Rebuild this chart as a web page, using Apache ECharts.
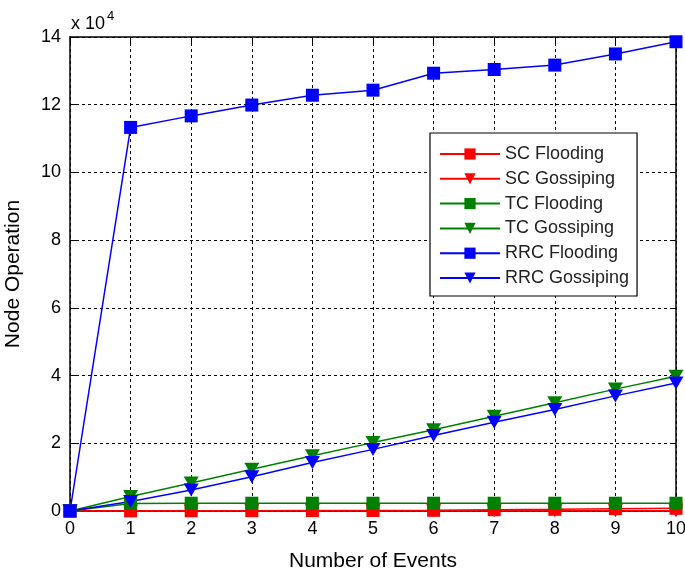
<!DOCTYPE html>
<html>
<head>
<meta charset="utf-8">
<script src="https://cdn.jsdelivr.net/npm/echarts@6/dist/echarts.min.js"></script>
<style>html,body{margin:0;padding:0;background:#fff;}#c{width:685px;height:575px;}</style>
</head>
<body>
<div id="c"></div>
<script>
var events = [0, 1, 2, 3, 4, 5, 6, 7, 8, 9, 10];
var scFlooding = [0, 50, 80, 100, 120, 150, 200, 400, 500, 700, 800];
var scGossiping = [0, 20, 30, 40, 50, 60, 70, 80, 90, 100, 110];
var tcFlooding = [0, 2200, 2300, 2300, 2300, 2300, 2300, 2300, 2300, 2300, 2300];
var tcGossiping = [0, 4300, 8300, 12300, 16300, 20200, 24000, 28000, 32000, 36000, 39800];
var rrcFlooding = [0, 113300, 116700, 119900, 122800, 124300, 129300, 130400, 131700, 135000, 138600];
var rrcGossiping = [0, 2800, 6200, 10100, 14300, 18200, 22300, 26200, 30000, 34000, 37800];
var yTicks = [0, 20000, 40000, 60000, 80000, 100000, 120000, 140000];

var font = 'Liberation Sans, Arial, Helvetica, sans-serif';
function pairs(ys){ return events.map(function(x,i){ return [x, ys[i]]; }); }
function mk(name, ys, color, sym, size){
  return {
    name: name, type: 'line', data: pairs(ys),
    symbol: sym, symbolSize: size, showSymbol: true,
    lineStyle: {color: color, width: 1.5},
    itemStyle: {color: color},
    animation: false
  };
}
var tri = 'path://M0,0 L10,0 L5,9 Z';
var chart = echarts.init(document.getElementById('c'), null, {renderer: 'canvas'});
chart.setOption({
  animation: false,
  backgroundColor: '#fff',
  grid: {left: 70, right: 9, top: 37, bottom: 64, containLabel: false, outerBoundsMode: 'none'},
  xAxis: [{
    type: 'value', min: 0, max: 10, interval: 1,
    name: 'Number of Events', nameLocation: 'middle', nameGap: 40,
    nameTextStyle: {fontFamily: font, fontSize: 21, color: '#000'},
    axisLine: {show: true, onZero: false, lineStyle: {color: '#000', width: 1.5}},
    axisTick: {show: true, inside: true, length: 6, lineStyle: {color: '#000'}},
    axisLabel: {fontFamily: font, fontSize: 18, color: '#000', margin: 9},
    splitLine: {show: true, lineStyle: {color: '#000', type: [3, 3], width: 1}}
  }, {
    type: 'value', min: 0, max: 10, interval: 1, position: 'top',
    axisLine: {show: true, onZero: false, lineStyle: {color: '#000', width: 1.5}},
    axisTick: {show: true, inside: true, length: 6, lineStyle: {color: '#000'}},
    axisLabel: {show: false}, splitLine: {show: false}
  }],
  yAxis: [{
    type: 'value', min: yTicks[0], max: yTicks[yTicks.length-1], interval: 20000,
    name: 'Node Operation', nameLocation: 'middle', nameGap: 46,
    nameTextStyle: {fontFamily: font, fontSize: 21, color: '#000'},
    axisLine: {show: true, onZero: false, lineStyle: {color: '#000', width: 1.5}},
    axisTick: {show: true, inside: true, length: 6, lineStyle: {color: '#000'}},
    axisLabel: {fontFamily: font, fontSize: 18, color: '#000', margin: 9,
      formatter: function(v){ return String(v/10000); }},
    splitLine: {show: true, lineStyle: {color: '#000', type: [3, 3], width: 1}}
  }, {
    type: 'value', min: yTicks[0], max: yTicks[yTicks.length-1], interval: 20000, position: 'right',
    axisLine: {show: true, onZero: false, lineStyle: {color: '#000', width: 1.5}},
    axisTick: {show: true, inside: true, length: 6, lineStyle: {color: '#000'}},
    axisLabel: {show: false}, splitLine: {show: false}
  }],
  legend: {
    orient: 'vertical', left: 430, top: 133,
    backgroundColor: '#fff', borderColor: '#000', borderWidth: 1.2,
    padding: [12, 8, 9, 9], itemWidth: 60, itemHeight: 14, itemGap: 6.8,
    textStyle: {fontFamily: font, fontSize: 18, color: '#222'},
    data: ['SC Flooding', 'SC Gossiping', 'TC Flooding', 'TC Gossiping', 'RRC Flooding', 'RRC Gossiping']
  },
  graphic: [{
    type: 'text', left: 71, top: 10,
    style: {
      text: '{a|x 10}{b|4}', fill: '#000',
      rich: {
        a: {fontFamily: font, fontSize: 18, fill: '#000', verticalAlign: 'bottom'},
        b: {fontFamily: font, fontSize: 13, fill: '#000', verticalAlign: 'top', padding: [0, 0, 10, 2]}
      }
    }
  }],
  series: [
    mk('SC Flooding', scFlooding, '#ff0000', 'rect', 13),
    mk('SC Gossiping', scGossiping, '#ff0000', tri, [15, 13]),
    mk('TC Flooding', tcFlooding, '#008000', 'rect', 13),
    mk('TC Gossiping', tcGossiping, '#008000', tri, [15, 13]),
    mk('RRC Flooding', rrcFlooding, '#0000ff', 'rect', 13),
    mk('RRC Gossiping', rrcGossiping, '#0000ff', tri, [15, 13])
  ]
});
</script>
</body>
</html>
